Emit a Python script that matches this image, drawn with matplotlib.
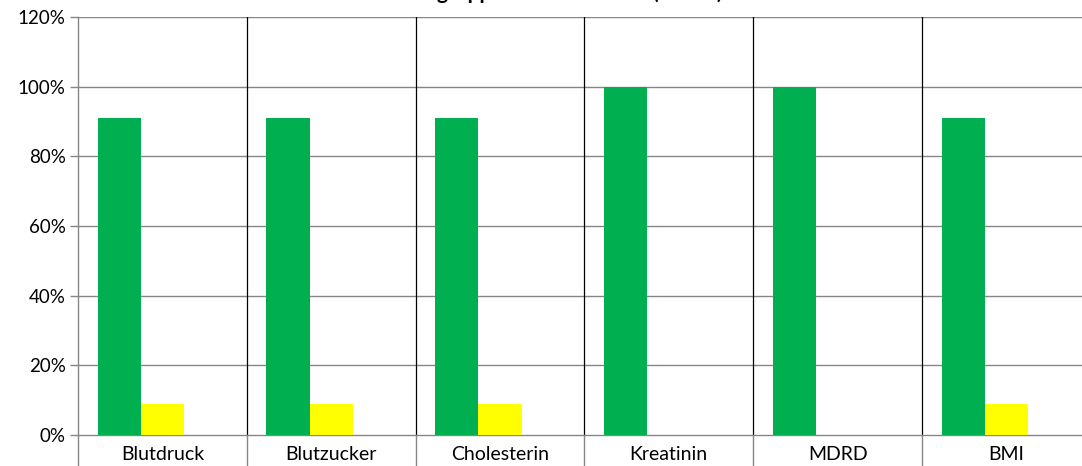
import matplotlib.pyplot as plt
import numpy as np

plt.rcParams['font.family'] = ['Lato', 'DejaVu Sans']

# data
categories = ["Blutdruck", "Blutzucker", "Cholesterin", "Kreatinin", "MDRD", "BMI"]
im_ziel = [91, 91, 91, 100, 100, 91]      # green
grenzwertig = [9, 9, 9, 0, 0, 9]          # yellow
nicht_ziel = [0, 0, 0, 0, 0, 0]           # hidden third series
title = "in der Altersgruppe 40 bis 49 Jahre (n = 11)"

W, H = 1082, 466
fig = plt.figure(figsize=(W / 100, H / 100), dpi=100)

cat_w = 168.8
ax = fig.add_axes([78 / W, 31 / H, 6 * cat_w / W, 418 / H])

x = np.arange(len(categories))
bw = 0.256
ax.bar(x - bw, im_ziel, bw, color="#00B050", zorder=3)
ax.bar(x, grenzwertig, bw, color="#FFFF00", zorder=3)
ax.bar(x + bw, nicht_ziel, bw, color="#FF0000", zorder=3)

ax.set_xlim(-0.5, len(categories) - 0.5)
ax.set_ylim(0, 120)

grid_col = "#868686"
ax.set_yticks(range(0, 121, 20))
ax.set_yticklabels([f"{v}%" for v in range(0, 121, 20)], fontsize=13.5)
for v in range(20, 121, 20):
    ax.axhline(v, color=grid_col, lw=1, zorder=1)
for b in np.arange(0.5, len(categories) - 0.5, 1):
    ax.axvline(b, color="black", lw=0.9, zorder=2)

ax.set_xticks(x)
ax.set_xticklabels(categories, fontsize=14)
ax.tick_params(axis="x", length=0, pad=8)
ax.set_xticks(np.arange(-0.5, len(categories), 1), minor=True)
ax.tick_params(axis="x", which="minor", length=23, color=grid_col, width=1)
ax.tick_params(axis="y", length=6, color=grid_col, width=1, pad=3)

for s in ["top", "right"]:
    ax.spines[s].set_visible(False)
for s in ["left", "bottom"]:
    ax.spines[s].set_color(grid_col)
    ax.spines[s].set_linewidth(1)

# title sits mostly above the image edge, only its lower part shows
fig.text(523 / W, 1 + 1 / H, title, ha="center", va="baseline", fontsize=15,
         fontweight="bold")

fig.savefig("out.png", dpi=100)
